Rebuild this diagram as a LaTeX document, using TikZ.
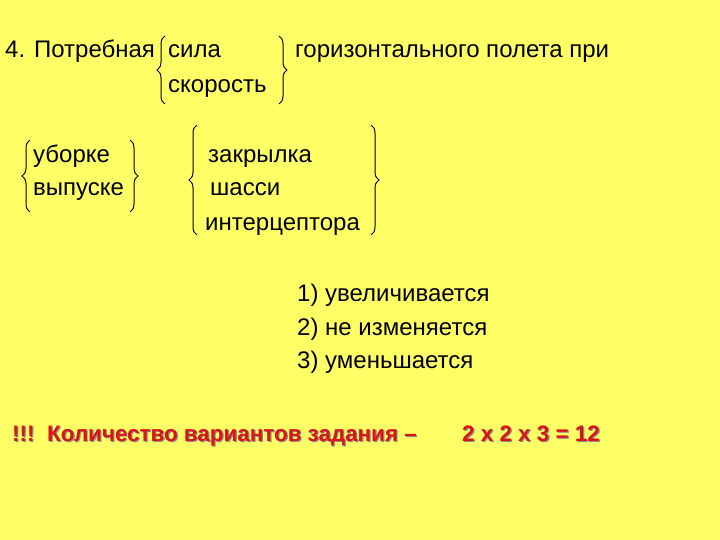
\documentclass[tikz,border=0pt]{standalone}
\usepackage{fontspec}
\setmainfont{Liberation Sans}
\usetikzlibrary{decorations.pathreplacing}
\definecolor{bg}{RGB}{255,255,102}
\definecolor{redt}{RGB}{220,20,20}
\begin{document}
\begin{tikzpicture}[x=1pt,y=-1pt,
  t/.style={anchor=base west,inner sep=0pt,font=\fontsize{24}{28}\selectfont},
  r/.style={t,text=redt,font=\fontsize{22.4}{26}\selectfont\bfseries},
  sh/.style={t,text=black!45,font=\fontsize{22.4}{26}\selectfont\bfseries},
  br/.style={decorate,decoration={brace,amplitude=8pt},line width=1pt}]
\fill[bg] (0,0) rectangle (720,540);
\useasboundingbox (0,0) rectangle (720,540);
\node[t] (n1) at (5,58) {4. Потребная};
\node[t] (n2) at (168,58) {сила};
\node[t] (n3) at (295,58) {горизонтального полета при};
\node[t] (n4) at (168,93) {скорость};
\node[t] (n5) at (33,163) {уборке};
\node[t] (n6) at (33,196) {выпуске};
\node[t] (n7) at (208,163) {закрылка};
\node[t] (n8) at (210,196) {шасси};
\node[t] (n9) at (205,230) {интерцептора};
\node[t] (a1) at (297,301) {1) увеличивается};
\node[t] (a2) at (297,335) {2) не изменяется};
\node[t] (a3) at (297,368) {3) уменьшается};
\node[sh] (s1) at (13.2,442.2) {!!!};
\node[sh] (s2) at (48.2,442.2) {Количество вариантов задания –};
\node[sh] (s3) at (463.2,442.2) {2 x 2 x 3 = 12};
\node[r] (b1) at (12,441) {!!!};
\node[r] (b2) at (47,441) {Количество вариантов задания –};
\node[r] (b3) at (462,441) {2 x 2 x 3 = 12};
\coordinate (g1a) at (165,104); \coordinate (g1b) at (165,36);
\coordinate (g1c) at (279,36); \coordinate (g1d) at (279,104);
\coordinate (g2a) at (30,212); \coordinate (g2b) at (30,140);
\coordinate (g2c) at (130,140); \coordinate (g2d) at (130,212);
\coordinate (g3a) at (197,235); \coordinate (g3b) at (197,125);
\coordinate (g3c) at (371,125); \coordinate (g3d) at (371,235);
\draw[br] (g1a) -- (g1b); \draw[br] (g1c) -- (g1d);
\draw[br] (g2a) -- (g2b); \draw[br] (g2c) -- (g2d);
\draw[br] (g3a) -- (g3b); \draw[br] (g3c) -- (g3d);
\end{tikzpicture}
\end{document}
